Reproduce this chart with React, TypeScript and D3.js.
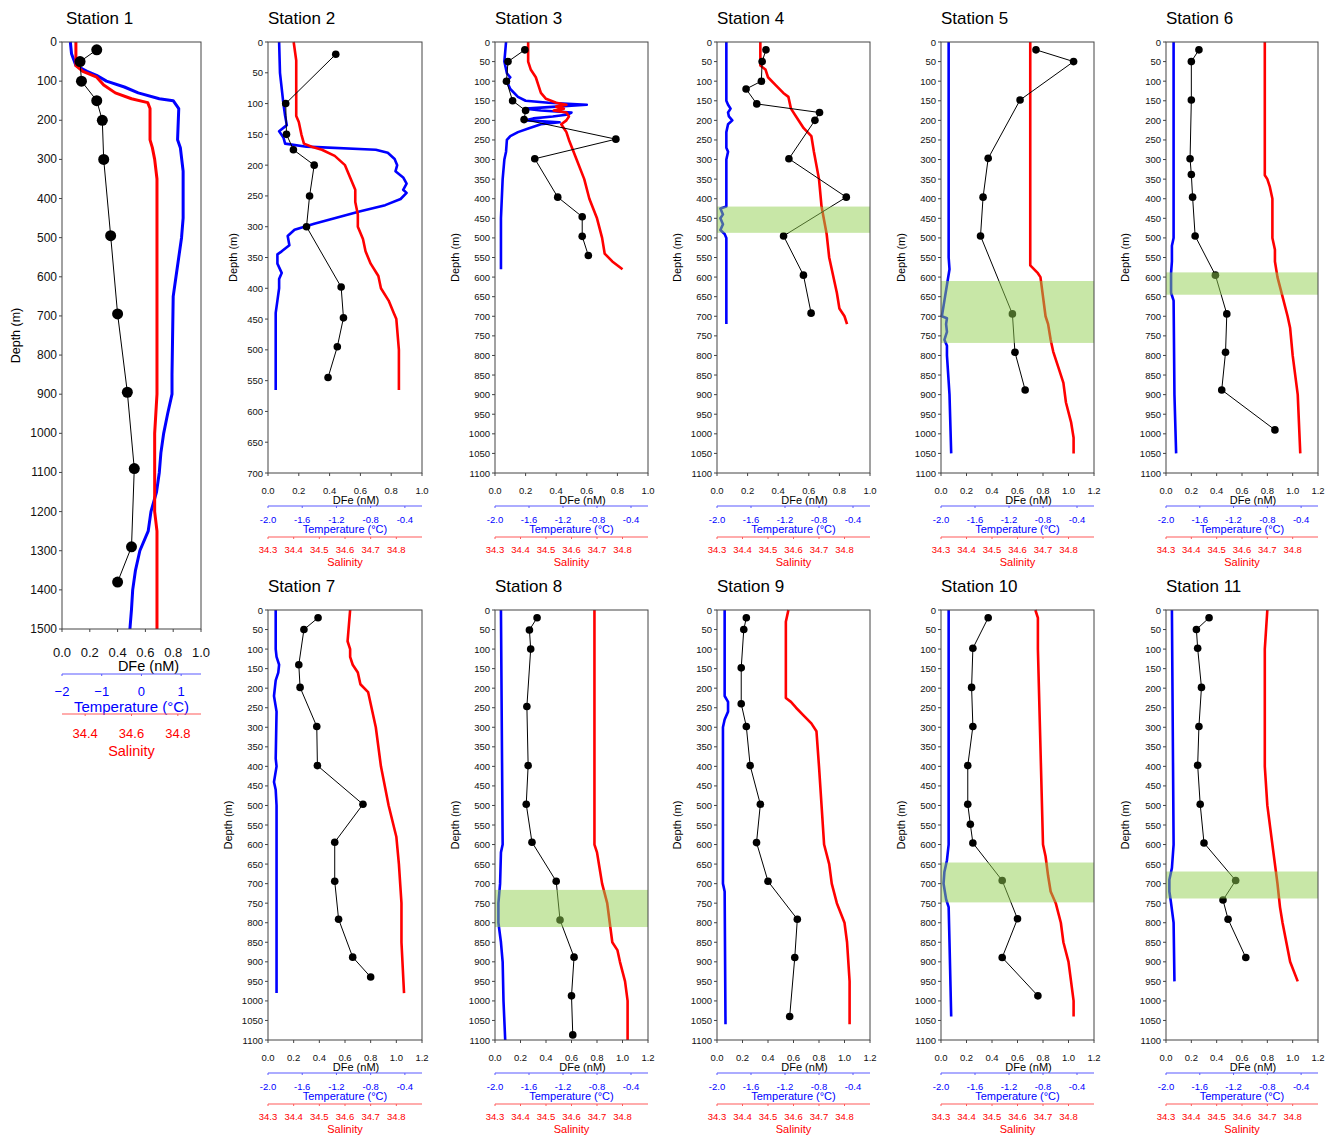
import React from "react";
import * as d3 from "d3";

type Pt = [number, number]; // [depth (m), value]

// ---------- Station 1 ----------
const station1DFe: Pt[] = [[20,0.25],[50,0.13],[100,0.14],[150,0.25],[200,0.29],[300,0.30],[495,0.35],[695,0.40],[895,0.47],[1090,0.52],[1290,0.50],[1380,0.40]];
const station1Temp: Pt[] = [[0,-1.79],[30,-1.76],[60,-1.65],[75,-1.37],[85,-1.13],[100,-0.88],[115,-0.43],[130,-0.08],[145,0.45],[150,0.80],[170,0.94],[250,0.91],[270,0.98],[330,1.05],[450,1.05],[500,1.01],[550,0.94],[600,0.87],[650,0.80],[850,0.77],[900,0.77],[950,0.66],[1000,0.56],[1050,0.49],[1100,0.45],[1150,0.38],[1200,0.24],[1250,0.17],[1300,-0.04],[1350,-0.15],[1400,-0.22],[1450,-0.25],[1500,-0.29]];
const station1Sal: Pt[] = [[0,34.36],[60,34.36],[75,34.39],[90,34.45],[110,34.48],[130,34.53],[145,34.60],[155,34.67],[170,34.68],[250,34.68],[270,34.69],[300,34.70],[350,34.71],[900,34.71],[1000,34.70],[1100,34.70],[1200,34.70],[1250,34.71],[1300,34.71],[1500,34.71]];

// ---------- Station 2 ----------
const station2DFe: Pt[] = [[20,0.44],[100,0.115],[150,0.12],[175,0.165],[200,0.30],[250,0.27],[300,0.25],[398,0.475],[448,0.49],[495,0.45],[545,0.39]];
const station2Temp: Pt[] = [[0,-1.87],[50,-1.86],[100,-1.82],[120,-1.80],[135,-1.78],[145,-1.87],[155,-1.82],[165,-1.80],[170,-1.55],[175,-0.74],[180,-0.60],[190,-0.52],[200,-0.49],[210,-0.51],[220,-0.42],[230,-0.38],[240,-0.42],[245,-0.38],[255,-0.45],[265,-0.63],[275,-0.92],[285,-1.19],[295,-1.46],[305,-1.69],[315,-1.77],[330,-1.75],[340,-1.84],[345,-1.89],[360,-1.89],[375,-1.84],[385,-1.87],[400,-1.87],[420,-1.89],[440,-1.91],[460,-1.91],[565,-1.91]];
const station2Sal: Pt[] = [[0,34.40],[30,34.41],[60,34.41],[120,34.41],[130,34.42],[150,34.43],[165,34.44],[170,34.47],[175,34.51],[185,34.56],[200,34.60],[220,34.62],[240,34.64],[260,34.64],[280,34.65],[300,34.65],[320,34.67],[340,34.68],[360,34.70],[380,34.73],[400,34.74],[420,34.77],[440,34.79],[450,34.80],[500,34.81],[565,34.81]];

// ---------- Station 3 ----------
const station3DFe: Pt[] = [[20,0.195],[50,0.085],[100,0.075],[150,0.115],[175,0.20],[198,0.19],[248,0.79],[298,0.26],[396,0.41],[446,0.57],[496,0.57],[545,0.61]];
const station3Temp: Pt[] = [[0,-1.87],[50,-1.89],[80,-1.86],[90,-1.82],[100,-1.86],[120,-1.82],[140,-1.73],[150,-1.64],[155,-1.37],[160,-0.92],[165,-1.28],[170,-1.64],[175,-1.46],[180,-1.10],[185,-1.14],[190,-1.32],[195,-1.55],[200,-1.64],[205,-1.24],[210,-1.46],[220,-1.60],[230,-1.73],[240,-1.82],[250,-1.86],[280,-1.87],[300,-1.89],[350,-1.91],[450,-1.93],[580,-1.93]];
const station3Sal: Pt[] = [[0,34.43],[50,34.43],[70,34.44],[90,34.46],[110,34.47],[130,34.48],[145,34.50],[155,34.54],[160,34.58],[165,34.54],[170,34.57],[175,34.53],[180,34.58],[190,34.59],[200,34.58],[210,34.56],[220,34.57],[230,34.58],[250,34.59],[300,34.62],[350,34.65],[400,34.67],[450,34.70],[500,34.72],[540,34.73],[560,34.76],[580,34.80]];

// ---------- Station 4 ----------
const station4DFe: Pt[] = [[20,0.32],[50,0.295],[100,0.29],[120,0.19],[158,0.26],[180,0.67],[200,0.64],[298,0.47],[396,0.845],[495,0.435],[595,0.565],[692,0.615]];
const station4Temp: Pt[] = [[0,-1.89],[150,-1.89],[160,-1.87],[170,-1.84],[180,-1.87],[190,-1.86],[200,-1.82],[210,-1.87],[230,-1.89],[270,-1.89],[280,-1.87],[300,-1.89],[420,-1.89],[425,-1.96],[440,-1.93],[450,-1.96],[465,-1.93],[480,-1.96],[490,-1.91],[500,-1.89],[720,-1.89]];
const station4Sal: Pt[] = [[0,34.47],[60,34.47],[70,34.49],[90,34.50],[110,34.53],[130,34.56],[140,34.58],[170,34.59],[190,34.61],[220,34.64],[240,34.67],[280,34.68],[350,34.70],[420,34.71],[490,34.73],[550,34.74],[640,34.77],[680,34.78],[700,34.80],[720,34.81]];
const station4Band = [420, 487];

// ---------- Station 5 ----------
const station5DFe: Pt[] = [[20,0.745],[50,1.04],[148,0.62],[297,0.37],[396,0.33],[495,0.31],[694,0.56],[792,0.58],[888,0.66]];
const station5Temp: Pt[] = [[0,-1.91],[550,-1.91],[580,-1.90],[620,-1.93],[660,-1.96],[700,-1.99],[705,-1.93],[720,-1.94],[740,-1.93],[760,-1.96],[775,-1.93],[800,-1.93],[900,-1.90],[1050,-1.88]];
const station5Sal: Pt[] = [[0,34.65],[570,34.65],[590,34.68],[600,34.69],[650,34.70],[700,34.71],[720,34.72],[760,34.73],[790,34.74],[830,34.76],[870,34.78],[920,34.79],[970,34.81],[1010,34.82],[1050,34.82]];
const station5Band = [610, 768];

// ---------- Station 6 ----------
const station6DFe: Pt[] = [[20,0.26],[50,0.20],[148,0.20],[298,0.19],[338,0.20],[396,0.21],[495,0.23],[595,0.39],[694,0.48],[792,0.47],[888,0.44],[990,0.86]];
const station6Temp: Pt[] = [[0,-1.91],[500,-1.91],[520,-1.93],[560,-1.93],[590,-1.94],[640,-1.94],[660,-1.91],[900,-1.90],[1050,-1.88]];
const station6Sal: Pt[] = [[0,34.69],[100,34.69],[340,34.69],[350,34.70],[370,34.71],[400,34.72],[500,34.72],[530,34.73],[560,34.73],[600,34.74],[650,34.76],[700,34.78],[730,34.79],[800,34.80],[900,34.82],[1050,34.83]];
const station6Band = [588, 645];

// ---------- Station 7 ----------
const station7DFe: Pt[] = [[20,0.39],[50,0.28],[140,0.24],[198,0.25],[298,0.38],[398,0.385],[497,0.74],[594,0.52],[694,0.52],[791,0.55],[888,0.66],[939,0.80]];
const station7Temp: Pt[] = [[0,-1.91],[100,-1.91],[120,-1.90],[140,-1.87],[160,-1.88],[180,-1.91],[220,-1.93],[260,-1.90],[380,-1.91],[400,-1.90],[440,-1.93],[460,-1.91],[500,-1.90],[980,-1.90]];
const station7Sal: Pt[] = [[0,34.62],[80,34.61],[100,34.62],[120,34.62],[140,34.63],[160,34.65],[190,34.66],[210,34.69],[240,34.70],[300,34.72],[400,34.74],[500,34.77],[580,34.80],[650,34.81],[750,34.82],[850,34.82],[980,34.83]];

// ---------- Station 8 ----------
const station8DFe: Pt[] = [[20,0.33],[51,0.27],[100,0.28],[247,0.25],[398,0.26],[497,0.245],[594,0.29],[694,0.48],[793,0.51],[888,0.62],[987,0.60],[1087,0.61]];
const station8Temp: Pt[] = [[0,-1.93],[600,-1.91],[620,-1.93],[700,-1.94],[750,-1.96],[800,-1.96],[850,-1.93],[900,-1.91],[1000,-1.90],[1100,-1.88]];
const station8Sal: Pt[] = [[0,34.69],[600,34.69],[620,34.70],[660,34.71],[700,34.72],[750,34.74],[800,34.75],[850,34.76],[870,34.78],[900,34.79],[950,34.81],[1000,34.82],[1100,34.82]];
const station8Band = [716, 811];

// ---------- Station 9 ----------
const station9DFe: Pt[] = [[20,0.23],[50,0.21],[148,0.19],[240,0.19],[298,0.23],[398,0.26],[497,0.34],[595,0.31],[694,0.40],[791,0.63],[889,0.61],[1040,0.57]];
const station9Temp: Pt[] = [[0,-1.91],[220,-1.91],[235,-1.87],[260,-1.87],[280,-1.91],[300,-1.93],[700,-1.93],[720,-1.91],[1060,-1.90]];
const station9Sal: Pt[] = [[0,34.58],[30,34.57],[225,34.57],[235,34.59],[250,34.61],[270,34.64],[290,34.67],[310,34.69],[400,34.70],[500,34.71],[600,34.72],[650,34.74],[700,34.75],[750,34.77],[800,34.80],[850,34.81],[950,34.82],[1060,34.82]];

// ---------- Station 10 ----------
const station10DFe: Pt[] = [[20,0.37],[98,0.25],[198,0.24],[298,0.25],[398,0.21],[497,0.21],[548,0.23],[596,0.25],[692,0.48],[790,0.60],[889,0.48],[987,0.76]];
const station10Temp: Pt[] = [[0,-1.91],[600,-1.91],[640,-1.93],[670,-1.96],[700,-1.97],[740,-1.94],[760,-1.91],[850,-1.90],[1040,-1.88]];
const station10Sal: Pt[] = [[0,34.67],[20,34.68],[100,34.68],[600,34.70],[630,34.71],[680,34.72],[720,34.73],[750,34.75],[800,34.77],[850,34.78],[900,34.80],[950,34.81],[1000,34.82],[1040,34.82]];
const station10Band = [646, 748];

// ---------- Station 11 ----------
const station11DFe: Pt[] = [[20,0.34],[50,0.24],[98,0.25],[198,0.28],[298,0.26],[397,0.25],[497,0.27],[596,0.30],[692,0.55],[742,0.45],[791,0.49],[889,0.63]];
const station11Temp: Pt[] = [[0,-1.93],[600,-1.91],[660,-1.93],[690,-1.96],[720,-1.96],[750,-1.94],[800,-1.91],[950,-1.90]];
const station11Sal: Pt[] = [[0,34.70],[100,34.69],[400,34.69],[500,34.70],[600,34.72],[700,34.74],[760,34.75],[800,34.76],[900,34.79],[950,34.82]];
const station11Band = [669, 738];

// ---------- axis ticks ----------
const bigTempTicks = [-2, -1, 0, 1];
const bigSalTicks = [34.4, 34.6, 34.8];
const smallTempTicks = [-2.0, -1.6, -1.2, -0.8, -0.4];
const smallSalTicks = [34.3, 34.4, 34.5, 34.6, 34.7, 34.8];

type Panel = {
  name: string;
  x0: number; x1: number; y0: number; y1: number;
  depthMax: number; depthStep: number; dfeMax: number;
  tempDomain: [number, number];
  dfe: Pt[]; temp: Pt[]; sal: Pt[];
  band?: number[];
  big?: boolean;
  depthLabelDx: number;
};

const TOP = { y0: 42, y1: 473 };
const BOT = { y0: 610, y1: 1040 };

const panels: Panel[] = [
  { name: "Station 1", x0: 62, x1: 201, y0: 42, y1: 629, depthMax: 1500, depthStep: 100, dfeMax: 1.0, tempDomain: [-2, 1.5], dfe: station1DFe, temp: station1Temp, sal: station1Sal, big: true, depthLabelDx: 46 },
  { name: "Station 2", x0: 268, x1: 422, ...TOP, depthMax: 700, depthStep: 50, dfeMax: 1.0, tempDomain: [-2, -0.2], dfe: station2DFe, temp: station2Temp, sal: station2Sal, depthLabelDx: 35 },
  { name: "Station 3", x0: 495, x1: 648, ...TOP, depthMax: 1100, depthStep: 50, dfeMax: 1.0, tempDomain: [-2, -0.2], dfe: station3DFe, temp: station3Temp, sal: station3Sal, depthLabelDx: 40 },
  { name: "Station 4", x0: 717, x1: 870, ...TOP, depthMax: 1100, depthStep: 50, dfeMax: 1.0, tempDomain: [-2, -0.2], dfe: station4DFe, temp: station4Temp, sal: station4Sal, band: station4Band, depthLabelDx: 40 },
  { name: "Station 5", x0: 941, x1: 1094, ...TOP, depthMax: 1100, depthStep: 50, dfeMax: 1.2, tempDomain: [-2, -0.2], dfe: station5DFe, temp: station5Temp, sal: station5Sal, band: station5Band, depthLabelDx: 40 },
  { name: "Station 6", x0: 1166, x1: 1318, ...TOP, depthMax: 1100, depthStep: 50, dfeMax: 1.2, tempDomain: [-2, -0.2], dfe: station6DFe, temp: station6Temp, sal: station6Sal, band: station6Band, depthLabelDx: 41 },
  { name: "Station 7", x0: 268, x1: 422, ...BOT, depthMax: 1100, depthStep: 50, dfeMax: 1.2, tempDomain: [-2, -0.2], dfe: station7DFe, temp: station7Temp, sal: station7Sal, depthLabelDx: 40 },
  { name: "Station 8", x0: 495, x1: 648, ...BOT, depthMax: 1100, depthStep: 50, dfeMax: 1.2, tempDomain: [-2, -0.2], dfe: station8DFe, temp: station8Temp, sal: station8Sal, band: station8Band, depthLabelDx: 40 },
  { name: "Station 9", x0: 717, x1: 870, ...BOT, depthMax: 1100, depthStep: 50, dfeMax: 1.2, tempDomain: [-2, -0.2], dfe: station9DFe, temp: station9Temp, sal: station9Sal, depthLabelDx: 40 },
  { name: "Station 10", x0: 941, x1: 1094, ...BOT, depthMax: 1100, depthStep: 50, dfeMax: 1.2, tempDomain: [-2, -0.2], dfe: station10DFe, temp: station10Temp, sal: station10Sal, band: station10Band, depthLabelDx: 40 },
  { name: "Station 11", x0: 1166, x1: 1318, ...BOT, depthMax: 1100, depthStep: 50, dfeMax: 1.2, tempDomain: [-2, -0.2], dfe: station11DFe, temp: station11Temp, sal: station11Sal, band: station11Band, depthLabelDx: 41 },
];

const FONT = "'Liberation Sans', Arial, Helvetica, sans-serif";
const BLUE = "#0000ff";
const RED = "#ff0000";

function PanelView({ p }: { p: Panel }) {
  const big = !!p.big;
  const x = d3.scaleLinear().domain([0, p.dfeMax]).range([p.x0, p.x1]);
  const tx = d3.scaleLinear().domain(p.tempDomain).range([p.x0, p.x1]);
  const sx = d3.scaleLinear().domain([34.3, 34.9]).range([p.x0, p.x1]);
  const y = d3.scaleLinear().domain([0, p.depthMax]).range([p.y0, p.y1]);

  const tempLine = d3.line<Pt>().x((d) => tx(d[1])).y((d) => y(d[0]));
  const salLine = d3.line<Pt>().x((d) => sx(d[1])).y((d) => y(d[0]));
  const dfeLine = d3.line<Pt>().x((d) => x(d[1])).y((d) => y(d[0]));

  const depthTicks = d3.range(0, p.depthMax + 1, p.depthStep);
  const dfeTicks = d3.range(0, p.dfeMax + 1e-6, 0.2);
  const tempTicks = big ? bigTempTicks : smallTempTicks;
  const salTicks = big ? bigSalTicks : smallSalTicks;

  const o = big
    ? { dfeT: 23, dfeL: 37, tLine: 45, tT: 62, tL: 77, sLine: 85, sT: 104, sL: 122 }
    : { dfeT: 17, dfeL: 27, tLine: 33, tT: 46, tL: 56, sLine: 64, sT: 76, sL: 89 };
  const fs = big
    ? { tick: 13, depthTick: 12, dfeL: 14.5, tL: 15, sL: 14.5, depthL: 12.5 }
    : { tick: 9.5, depthTick: 9.5, dfeL: 11, tL: 11, sL: 11, depthL: 11 };

  const cx = (p.x0 + p.x1) / 2;
  const cy = (p.y0 + p.y1) / 2;
  const r = big ? 5.5 : 3.8;
  const traceW = big ? 3 : 2.6;

  return (
    <g fontFamily={FONT}>
      {/* title */}
      <text x={p.x0 + (big ? 4 : 0)} y={p.y0 - 24} fontSize={17} dominantBaseline="central" fill="#000">{p.name}</text>

      {/* traces */}
      <path d={tempLine(p.temp) || ""} fill="none" stroke={BLUE} strokeWidth={traceW} strokeLinejoin="round" />
      <path d={salLine(p.sal) || ""} fill="none" stroke={RED} strokeWidth={traceW} strokeLinejoin="round" />
      <path d={dfeLine(p.dfe) || ""} fill="none" stroke="#000" strokeWidth={1} />
      {p.dfe.map((d, i) => (
        <circle key={i} cx={x(d[1])} cy={y(d[0])} r={r} fill="#000" />
      ))}

      {/* band overlay */}
      {p.band && (
        <rect x={p.x0} y={y(p.band[0])} width={p.x1 - p.x0} height={y(p.band[1]) - y(p.band[0])} fill="#92d050" opacity={0.5} />
      )}

      {/* frame */}
      <rect x={p.x0} y={p.y0} width={p.x1 - p.x0} height={p.y1 - p.y0} fill="none" stroke="#444" strokeWidth={1} />

      {/* depth axis */}
      {depthTicks.map((t) => (
        <g key={"d" + t}>
          <line x1={p.x0 - 3} x2={p.x0} y1={y(t)} y2={y(t)} stroke="#444" />
          <text x={p.x0 - 5} y={y(t)} fontSize={fs.depthTick} textAnchor="end" dominantBaseline="central" fill="#111">{t}</text>
        </g>
      ))}
      <text transform={`translate(${p.x0 - p.depthLabelDx},${cy}) rotate(-90)`} fontSize={fs.depthL} textAnchor="middle" dominantBaseline="central" fill="#000">Depth (m)</text>

      {/* DFe axis */}
      {dfeTicks.map((t) => (
        <g key={"x" + t}>
          <line x1={x(t)} x2={x(t)} y1={p.y1} y2={p.y1 + 3} stroke="#444" />
          <text x={x(t)} y={p.y1 + o.dfeT} fontSize={fs.tick} textAnchor="middle" dominantBaseline="central" fill="#111">{t.toFixed(1)}</text>
        </g>
      ))}
      <text x={cx + (big ? 17 : 11)} y={p.y1 + o.dfeL} fontSize={fs.dfeL} textAnchor="middle" dominantBaseline="central" fill="#000">DFe (nM)</text>

      {/* temperature axis */}
      <line x1={p.x0} x2={p.x1} y1={p.y1 + o.tLine} y2={p.y1 + o.tLine} stroke="#5a5aff" strokeWidth={1.2} />
      {tempTicks.map((t) => (
        <g key={"t" + t}>
          <line x1={tx(t)} x2={tx(t)} y1={p.y1 + o.tLine} y2={p.y1 + o.tLine + 2} stroke="#5a5aff" />
          <text x={tx(t)} y={p.y1 + o.tT} fontSize={fs.tick} textAnchor="middle" dominantBaseline="central" fill={BLUE}>{big ? d3.format("d")(t) : t.toFixed(1)}</text>
        </g>
      ))}
      <text x={cx} y={p.y1 + o.tL} fontSize={fs.tL} textAnchor="middle" dominantBaseline="central" fill={BLUE}>Temperature (°C)</text>

      {/* salinity axis */}
      <line x1={p.x0} x2={p.x1} y1={p.y1 + o.sLine} y2={p.y1 + o.sLine} stroke="#ff5a5a" strokeWidth={1.2} />
      {salTicks.map((t) => (
        <g key={"s" + t}>
          <line x1={sx(t)} x2={sx(t)} y1={p.y1 + o.sLine} y2={p.y1 + o.sLine + 2} stroke="#ff5a5a" />
          <text x={sx(t)} y={p.y1 + o.sT} fontSize={fs.tick} textAnchor="middle" dominantBaseline="central" fill={RED}>{t.toFixed(1)}</text>
        </g>
      ))}
      <text x={cx} y={p.y1 + o.sL} fontSize={fs.sL} textAnchor="middle" dominantBaseline="central" fill={RED}>Salinity</text>
    </g>
  );
}

export default function App() {
  return (
    <svg width={1332} height={1136} style={{ position: "absolute", left: 0, top: 0, background: "#fff" }}>
      <rect x={0} y={0} width={1332} height={1136} fill="#fff" />
      {panels.map((p) => (
        <PanelView key={p.name} p={p} />
      ))}
    </svg>
  );
}
